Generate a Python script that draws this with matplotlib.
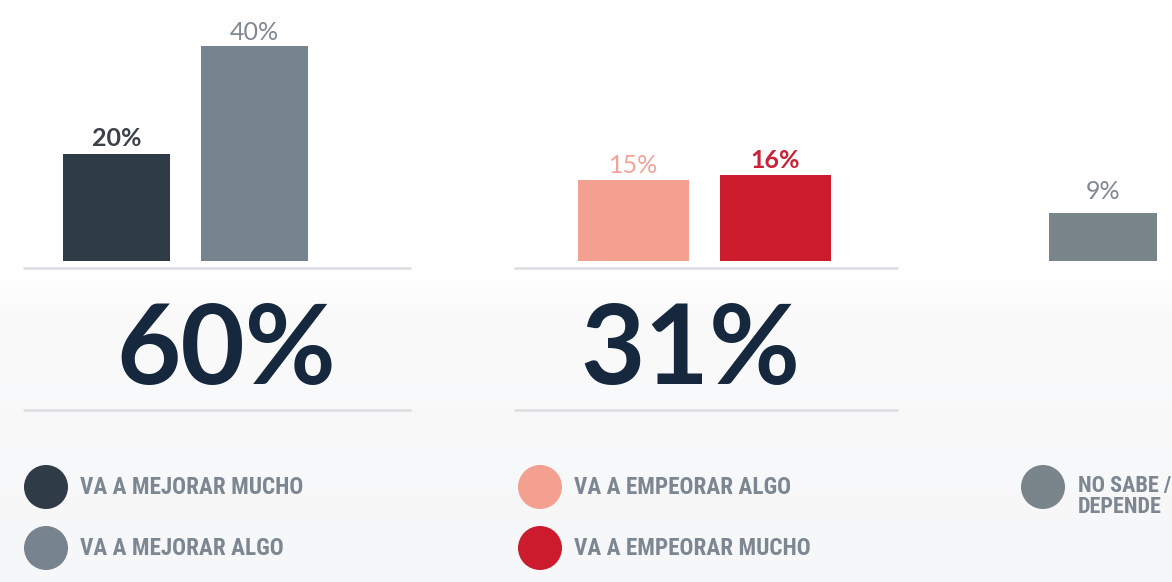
import numpy as np
import matplotlib
matplotlib.use("Agg")
import matplotlib.pyplot as plt
from matplotlib.patches import Circle
from matplotlib import font_manager

# ---------------- data ----------------
categories = ["VA A MEJORAR MUCHO", "VA A MEJORAR ALGO",
              "VA A EMPEORAR ALGO", "VA A EMPEORAR MUCHO",
              "NO SABE /\nDEPENDE"]
values = [20, 40, 15, 16, 9]
group_of = [0, 0, 1, 1, 2]
bar_colors = ["#2f3b46", "#77838f", "#f4a091", "#cb1b2d", "#79848b"]
label_colors = ["#3b4148", "#7f8893", "#f3a49a", "#c8233a", "#7f8890"]
label_weights = ["bold", "normal", "normal", "bold", "normal"]

# ---------------- layout (pixels) ----------------
W, H = 1172, 582
bar_centers = [116.5, 254.5, 633.5, 775.5, 1103]
bar_widths = [107, 107, 111, 111, 108]
label_gap_px = [7, 6, 7, 7, 14]
baseline_px = 261          # y of bar bottoms (from top)
px_per_pct = 5.375
ymax = 48
group_lines = [(23, 411), (514, 898)]
total_centers = [226, 690]
legend_pos = [(46, 487), (46, 548), (540, 487), (540, 548), (1043, 487)]
legend_r = 22

# pick a condensed face for the legend if one is installed
names = {f.name for f in font_manager.fontManager.ttflist}
cond = [n for n in ["Roboto Condensed", "Liberation Sans Narrow", "Open Sans Condensed",
                    "DejaVu Sans Condensed", "Noto Sans Condensed"] if n in names]
if cond:
    leg_family = [cond[0], "DejaVu Sans"]
    leg_size, leg_size2 = 16.7, 16
else:
    leg_family = ["Roboto", "DejaVu Sans"]
    leg_size, leg_size2 = 14, 13

fig = plt.figure(figsize=(W / 100, H / 100), dpi=100)

# background gradient
bg = fig.add_axes([0, 0, 1, 1], zorder=0)
ys = np.arange(H)
t = np.clip((ys - 275) / 40, 0, 1)
t2 = np.clip((ys - 315) / (H - 315), 0, 1)
top = np.array([1.0, 1.0, 1.0])
mid = np.array([0xfa, 0xfa, 0xfb]) / 255
bot = np.array([0xf6, 0xf7, 0xf8]) / 255
grad = np.zeros((H, 1, 3))
for i in range(H):
    c = top * (1 - t[i]) + mid * t[i]
    c = c * (1 - t2[i]) + bot * t2[i]
    grad[i, 0, :] = c
bg.imshow(grad, aspect="auto", extent=[0, W, H, 0])
bg.set_xlim(0, W)
bg.set_ylim(H, 0)
bg.axis("off")

# bars axes
ax_bottom = (H - baseline_px) / H
ax_height = ymax * px_per_pct / H
ax = fig.add_axes([0, ax_bottom, 1, ax_height], zorder=1)
ax.patch.set_alpha(0)
ax.set_xlim(0, W)
ax.set_ylim(0, ymax)
ax.axis("off")
ax.bar(bar_centers, values, width=bar_widths, color=bar_colors)
for xc, v, c, w, g in zip(bar_centers, values, label_colors, label_weights, label_gap_px):
    ax.annotate(f"{v}%", xy=(xc, v), xytext=(0, g * 0.72), textcoords="offset points",
                ha="center", va="baseline", fontsize=18, color=c,
                fontweight=w, family=["Lato", "DejaVu Sans"])

# overlay axes in pixel coordinates
ov = fig.add_axes([0, 0, 1, 1], zorder=2)
ov.patch.set_alpha(0)
ov.set_xlim(0, W)
ov.set_ylim(H, 0)
ov.axis("off")

totals = {}
for v, g in zip(values, group_of):
    totals[g] = totals.get(g, 0) + v

for gi, (x0, x1) in enumerate(group_lines):
    for yl in (268, 410):
        ov.plot([x0, x1], [yl, yl], color="#dadde1", lw=1.8, solid_capstyle="butt")
    ov.text(total_centers[gi], 384, f"{totals[gi]}%", ha="center", va="baseline",
            fontsize=80, fontweight="bold", color="#15283e",
            family=["Lato", "DejaVu Sans"])

for (cx, cy), col, name in zip(legend_pos, bar_colors, categories):
    ov.add_patch(Circle((cx, cy), legend_r, color=col, lw=0))
    if "\n" in name:
        ov.text(cx + 35, cy + 26, name, ha="left", va="baseline", fontsize=leg_size2,
                fontweight="bold", color="#7d8792", linespacing=0.92,
                family=leg_family, clip_on=True)
    else:
        ov.text(cx + 34, cy + 7, name, ha="left", va="baseline", fontsize=leg_size,
                fontweight="bold", color="#7d8792", family=leg_family)

fig.savefig("out.png", dpi=100)
